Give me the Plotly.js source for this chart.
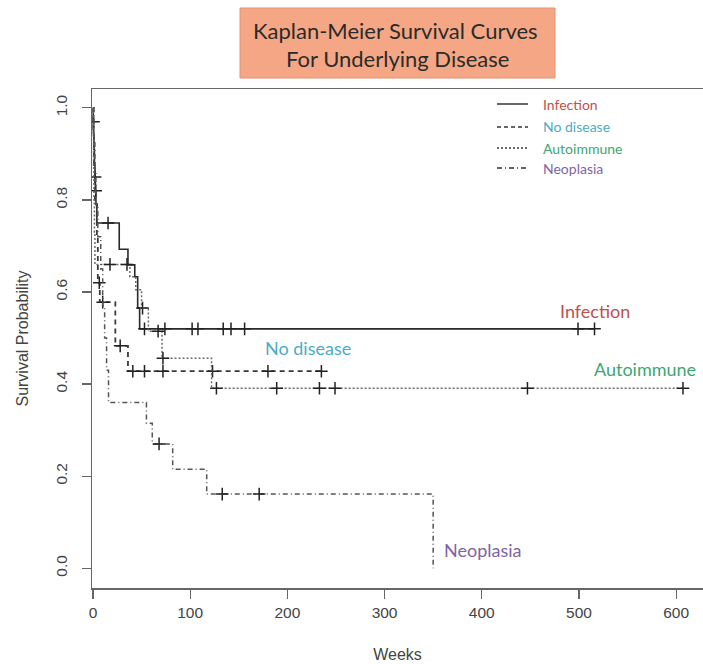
<!DOCTYPE html>
<html>
<head>
<meta charset="utf-8">
<script src="https://cdn.plot.ly/plotly-3.0.1.min.js"></script>
<style>
html,body{margin:0;padding:0;background:#fff;overflow:hidden;}
#chart{width:703px;height:664px;}
</style>
</head>
<body>
<div id="chart"></div>
<script>
// ---- Data (weeks, survival probability) ----
const infectionTimes = [0, 0.3, 0.6, 1, 1.5, 2, 2.5, 3, 4, 27, 36, 43, 46, 48, 516];
const infectionSurv  = [1.0, 0.97, 0.94, 0.91, 0.88, 0.85, 0.82, 0.79, 0.75, 0.693, 0.659, 0.633, 0.565, 0.52, 0.52];
const infectionCensor = [0.5, 2.2, 2.8, 15.5, 53, 74, 102, 108, 134, 142, 156, 499, 516];

const noDiseaseTimes = [0, 0.5, 1, 2, 4, 5, 7, 23, 36, 235];
const noDiseaseSurv  = [1.0, 0.95, 0.87, 0.80, 0.72, 0.62, 0.578, 0.483, 0.428, 0.428];
const noDiseaseCensor = [6.5, 10, 28, 41, 53, 72, 123, 180, 235];

const autoimmuneTimes = [0, 0.3, 0.6, 1, 1.5, 2, 38, 44, 50, 57, 71, 122, 608];
const autoimmuneSurv  = [1.0, 0.94, 0.87, 0.80, 0.73, 0.66, 0.633, 0.605, 0.565, 0.515, 0.456, 0.391, 0.391];
const autoimmuneCensor = [17.5, 35, 51, 67, 72, 127, 189, 233, 249, 447, 607];

const neoplasiaTimes = [0, 1, 2, 3, 5, 8, 10, 12, 14, 16, 55, 61, 82, 117, 350];
const neoplasiaSurv  = [1.0, 0.93, 0.86, 0.79, 0.72, 0.65, 0.57, 0.50, 0.43, 0.36, 0.315, 0.27, 0.215, 0.161, 0.0];
const neoplasiaCensor = [68, 133, 171];

const groupNames = ["Infection", "No disease", "Autoimmune", "Neoplasia"];
const xTicks = [0, 100, 200, 300, 400, 500, 600];
const yTicks = [0.0, 0.2, 0.4, 0.6, 0.8, 1.0];

// ---- helpers ----
function stepValue(times, surv, t) {
  let v = surv[0];
  for (let i = 0; i < times.length; i++) { if (times[i] <= t) v = surv[i]; }
  return v;
}

const groups = [
  {t: infectionTimes, s: infectionSurv, c: infectionCensor, dash: 'solid', color: '#2a2a2a', w: 1.6},
  {t: noDiseaseTimes, s: noDiseaseSurv, c: noDiseaseCensor, dash: '5px,4px', color: '#3a3a3a', w: 1.8},
  {t: autoimmuneTimes, s: autoimmuneSurv, c: autoimmuneCensor, dash: '2px,2px', color: '#6a6a6a', w: 1.5},
  {t: neoplasiaTimes, s: neoplasiaSurv, c: neoplasiaCensor, dash: '5px,3px,1px,3px', color: '#555555', w: 1.5}
];

const traces = [];
groups.forEach((g, i) => {
  traces.push({
    x: g.t, y: g.s, type: 'scatter', mode: 'lines', name: groupNames[i],
    line: {shape: 'hv', dash: g.dash, color: g.color, width: g.w},
    showlegend: false, hoverinfo: 'skip'
  });
  traces.push({
    x: g.c, y: g.c.map(t => stepValue(g.t, g.s, t)), type: 'scatter', mode: 'markers',
    marker: {symbol: 'cross-thin', size: 9, line: {color: '#222', width: 1.5}},
    showlegend: false, hoverinfo: 'skip'
  });
});

const labelFont = "Lato, 'Open Sans', sans-serif";
const textColors = ['#C0504D', '#4BACC6', '#3DA672', '#8064A2'];

// paper helpers (plot area: left 92, right 703, top 89, bottom 588)
const px = v => (v - 92) / 611;
const py = v => (588 - v) / 499;

const legendRows = [104, 127, 148, 168];
const legendDash = ['solid', '4px,3px', '2px,2px', '5px,3px,1px,3px'];
const shapes = [
  {type: 'rect', xref: 'paper', yref: 'paper', x0: px(240), x1: px(555), y0: py(78), y1: py(8),
   fillcolor: '#F5A785', line: {color: '#E39270', width: 1}, layer: 'above'}
];
const annotations = [
  {xref: 'paper', yref: 'paper', x: px(395), y: py(30), text: 'Kaplan-Meier Survival Curves', showarrow: false,
   font: {family: labelFont, size: 22, color: '#2b2b2b'}, xanchor: 'center', yanchor: 'middle'},
  {xref: 'paper', yref: 'paper', x: px(397.5), y: py(58), text: 'For Underlying Disease', showarrow: false,
   font: {family: labelFont, size: 22, color: '#2b2b2b'}, xanchor: 'center', yanchor: 'middle'}
];
legendRows.forEach((r, i) => {
  shapes.push({type: 'line', xref: 'paper', yref: 'paper', x0: px(497), x1: px(528), y0: py(r), y1: py(r),
    line: {color: '#666', width: i === 0 ? 2 : 1.8, dash: legendDash[i]}});
  annotations.push({xref: 'paper', yref: 'paper', x: px(541), y: py(r), text: groupNames[i], showarrow: false,
    xanchor: 'left', yanchor: 'middle', font: {family: labelFont, size: 14, color: textColors[i]}});
});
// in-plot curve labels (data coordinates)
const curveLabels = [
  {x: 516, y: 0.559}, {x: 221, y: 0.478}, {x: 568, y: 0.433}, {x: 401, y: 0.039}
];
curveLabels.forEach((p, i) => {
  annotations.push({x: p.x, y: p.y, xref: 'x', yref: 'y', text: groupNames[i], showarrow: false,
    xanchor: 'center', yanchor: 'middle', font: {family: labelFont, size: 18, color: textColors[i]}});
});

const axisFont = {family: "'Liberation Sans', Arial, sans-serif", size: 15.5, color: '#444'};
const titleFont = {family: "'Liberation Sans', Arial, sans-serif", size: 16, color: '#444'};
const layout = {
  width: 703, height: 664,
  margin: {l: 92, r: 0, t: 89, b: 76, pad: 0},
  paper_bgcolor: '#fff', plot_bgcolor: '#fff',
  xaxis: {
    range: [-1, 627.6], tickvals: xTicks, ticktext: xTicks.map(String),
    showgrid: false, zeroline: false, showline: true, mirror: true, linecolor: '#666', linewidth: 1.5,
    ticks: 'outside', ticklen: 9, tickwidth: 1.2, tickcolor: '#666', tickfont: axisFont,
    ticklabelstandoff: 1,
    title: {text: 'Weeks', font: titleFont, standoff: 28}
  },
  yaxis: {
    range: [-0.043, 1.041], tickvals: yTicks, ticktext: yTicks.map(v => v.toFixed(1)),
    showgrid: false, zeroline: false, showline: true, mirror: false, linecolor: '#666', linewidth: 1.5,
    ticks: 'outside', ticklen: 9, tickwidth: 1.2, tickcolor: '#666', tickfont: axisFont, tickangle: -90,
    ticklabelstandoff: 8,
    title: {text: 'Survival Probability', font: titleFont, standoff: 20}
  },
  shapes: shapes,
  annotations: annotations
};

Plotly.newPlot('chart', traces, layout, {displayModeBar: false, staticPlot: true});
</script>
</body>
</html>
